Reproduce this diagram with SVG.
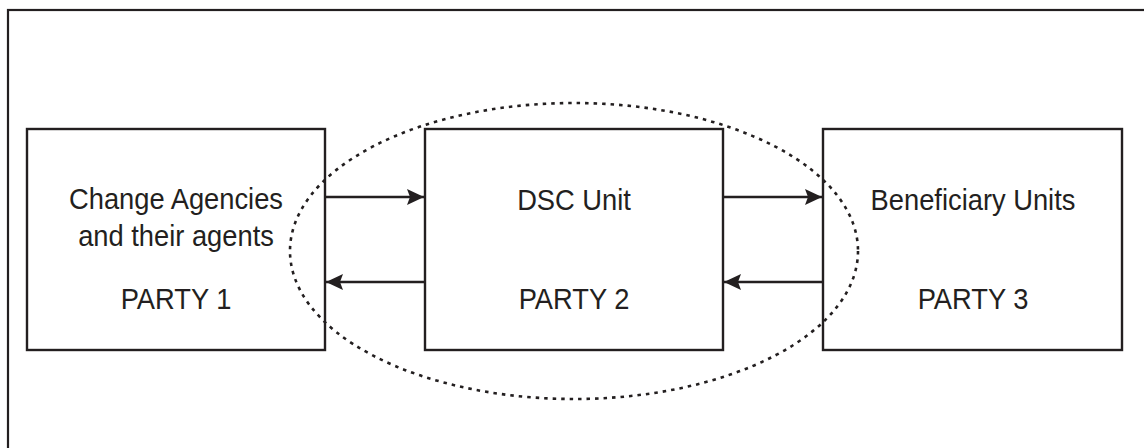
<svg xmlns="http://www.w3.org/2000/svg" width="1144" height="448" viewBox="0 0 1144 448">
  <style>
    .box { fill: #ffffff; stroke: #231f20; stroke-width: 2.4; }
    .lbl { font-family: "Liberation Sans", Arial, sans-serif; font-size: 30px; fill: #231f20; text-anchor: middle; }
    .conn { stroke: #231f20; stroke-width: 2.4; fill: none; }
    .oval { fill: none; stroke: #231f20; stroke-width: 2.6; stroke-dasharray: 3.5 5; }
  </style>
  <defs>
    <marker id="ah" viewBox="0 0 17 16" refX="17" refY="8" markerWidth="17" markerHeight="16" markerUnits="userSpaceOnUse" orient="auto">
      <path d="M0,0 L17,8 L0,16 L3,8 Z" fill="#231f20"/>
    </marker>
  </defs>
  <rect width="1144" height="448" fill="#ffffff"/>
  <rect id="frame" x="8" y="10" width="1145" height="450" fill="none" stroke="#231f20" stroke-width="2.2"/>

  <g id="party1">
    <rect class="box" x="27" y="129" width="298" height="221"/>
    <g transform="translate(176,0) scale(0.91,1)">
      <text class="lbl" x="0" y="209">Change Agencies</text>
      <text class="lbl" x="0" y="246">and their agents</text>
      <text class="lbl" x="0" y="309">PARTY 1</text>
    </g>
  </g>
  <g id="party2">
    <rect class="box" x="425" y="129" width="298" height="221"/>
    <g transform="translate(574,0) scale(0.91,1)">
      <text class="lbl" x="0" y="210">DSC Unit</text>
      <text class="lbl" x="0" y="309">PARTY 2</text>
    </g>
  </g>
  <g id="party3">
    <rect class="box" x="823" y="129" width="299" height="221"/>
    <g transform="translate(973,0) scale(0.91,1)">
      <text class="lbl" x="0" y="210">Beneficiary Units</text>
      <text class="lbl" x="0" y="309">PARTY 3</text>
    </g>
  </g>

  <g id="boundary">
    <ellipse class="oval" cx="574" cy="251" rx="284" ry="148"/>
  </g>

  <g id="connectors">
    <line class="conn" x1="326" y1="197" x2="424" y2="197" marker-end="url(#ah)"/>
    <line class="conn" x1="424" y1="282" x2="326" y2="282" marker-end="url(#ah)"/>
    <line class="conn" x1="724" y1="197" x2="822" y2="197" marker-end="url(#ah)"/>
    <line class="conn" x1="822" y1="282" x2="724" y2="282" marker-end="url(#ah)"/>
  </g>
</svg>
